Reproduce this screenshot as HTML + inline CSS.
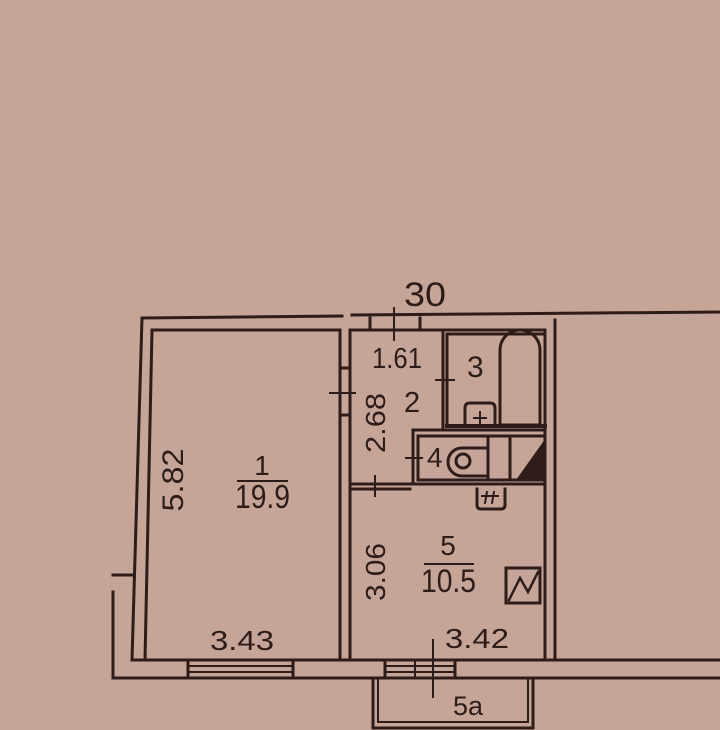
<!DOCTYPE html>
<html><head><meta charset="utf-8"><style>
html,body{margin:0;padding:0;background:#c4a598;}
svg{display:block}
text{font-family:"Liberation Sans",sans-serif;fill:#2e1c18}
</style></head><body>
<svg width="720" height="730" viewBox="0 0 720 730" xmlns="http://www.w3.org/2000/svg">
<rect width="720" height="730" fill="#c4a598"/>
<g stroke="#2e1c18" stroke-width="3" fill="none" stroke-linecap="square">
<line x1="142" y1="318" x2="342" y2="316"/>
<line x1="152" y1="330" x2="340" y2="330"/>
<line x1="142" y1="318" x2="132" y2="660"/>
<line x1="152" y1="330" x2="145" y2="660"/>
<line x1="340" y1="330" x2="340" y2="660"/>
<line x1="350" y1="330" x2="350" y2="660"/>
<line x1="342" y1="368" x2="350" y2="368"/>
<line x1="342" y1="415" x2="350" y2="415"/>
<line x1="330" y1="393" x2="355" y2="393" stroke-width="2"/>
<line x1="113" y1="575" x2="132" y2="575"/>
<line x1="113" y1="592" x2="113" y2="678"/>
<line x1="132" y1="660" x2="720" y2="660"/>
<line x1="113" y1="678" x2="720" y2="678"/>
<line x1="188" y1="660" x2="188" y2="678"/>
<line x1="293" y1="660" x2="293" y2="678"/>
<line x1="188" y1="666" x2="293" y2="666" stroke-width="2"/>
<line x1="188" y1="672" x2="293" y2="672" stroke-width="2"/>
<line x1="385" y1="660" x2="385" y2="678"/>
<line x1="455" y1="660" x2="455" y2="678"/>
<line x1="385" y1="666" x2="455" y2="666" stroke-width="2"/>
<line x1="385" y1="672" x2="455" y2="672" stroke-width="2"/>
<line x1="415" y1="660" x2="415" y2="678" stroke-width="2"/>
<line x1="433" y1="640" x2="433" y2="697" stroke-width="2"/>
<path d="M373 678 V728 H533 V678"/>
<path d="M378 678 V722 H528 V678" stroke-width="2"/>
<line x1="352" y1="315" x2="720" y2="312"/>
<line x1="350" y1="330" x2="545" y2="330"/>
<line x1="545" y1="330" x2="545" y2="660"/>
<line x1="555" y1="320" x2="555" y2="660"/>
<line x1="370" y1="318" x2="370" y2="330"/>
<line x1="420" y1="318" x2="420" y2="330"/>
<line x1="394" y1="308" x2="394" y2="340" stroke-width="2"/>
<line x1="443" y1="330" x2="443" y2="428"/>
<line x1="447" y1="334" x2="447" y2="425"/>
<line x1="447" y1="334" x2="545" y2="334"/>
<line x1="436" y1="380" x2="454" y2="380" stroke-width="2"/>
<path d="M500 425 V350 A20 20 0 0 1 540 350 V425 Z"/>
<line x1="447" y1="426" x2="545" y2="426" stroke-width="4"/>
<path d="M465 425 V408 Q465 403 470 403 H490 Q495 403 495 408 V425"/>
<line x1="480" y1="412" x2="480" y2="424" stroke-width="2"/>
<line x1="474" y1="418" x2="486" y2="418" stroke-width="2"/>
<line x1="413" y1="430" x2="545" y2="430"/>
<line x1="418" y1="436" x2="545" y2="436"/>
<line x1="413" y1="430" x2="413" y2="483"/>
<line x1="418" y1="436" x2="418" y2="480"/>
<line x1="418" y1="480" x2="545" y2="480"/>
<line x1="406" y1="458" x2="422" y2="458" stroke-width="2"/>
<path d="M488 436 V478"/>
<path d="M510 436 V478"/>
<path d="M488 448 H462 A14 14 0 0 0 462 476 H488"/>
<circle cx="463" cy="461" r="7"/>
<path d="M545 440 L518 478 L545 478 Z" fill="#2e1c18" stroke-width="1"/>
<line x1="350" y1="484" x2="545" y2="484"/>
<line x1="350" y1="489" x2="410" y2="489"/>
<line x1="375" y1="476" x2="375" y2="496" stroke-width="2"/>
<path d="M477 489 V505 Q477 509 481 509 H501 Q505 509 505 505 V489"/>
<line x1="487" y1="492" x2="485" y2="503" stroke-width="2"/>
<line x1="494" y1="492" x2="492" y2="503" stroke-width="2"/>
<line x1="482" y1="496" x2="498" y2="496" stroke-width="2"/>
<rect x="506" y="568" width="34" height="35"/>
<path d="M509 600 L520 578 L528 592 L538 572" stroke-width="2.5"/>
<line x1="238" y1="481" x2="287" y2="481" stroke-width="2"/>
<line x1="425" y1="564" x2="473" y2="564" stroke-width="2"/>
</g>
<g>
<text x="404" y="306" font-size="34" textLength="42" lengthAdjust="spacingAndGlyphs">30</text>
<text x="372" y="368" font-size="29" textLength="50" lengthAdjust="spacingAndGlyphs">1.61</text>
<text x="467" y="377" font-size="30">3</text>
<text x="404" y="412" font-size="29">2</text>
<text x="427" y="467" font-size="28">4</text>
<text x="262" y="475" text-anchor="middle" font-size="28">1</text>
<text x="235" y="508" font-size="33" textLength="55" lengthAdjust="spacingAndGlyphs">19.9</text>
<text x="448" y="555" text-anchor="middle" font-size="28">5</text>
<text x="421" y="592" font-size="32" textLength="55" lengthAdjust="spacingAndGlyphs">10.5</text>
<text x="210" y="650" font-size="28" textLength="64" lengthAdjust="spacingAndGlyphs">3.43</text>
<text x="445" y="648" font-size="28" textLength="64" lengthAdjust="spacingAndGlyphs">3.42</text>
<text x="453" y="715" font-size="27">5a</text>
<text transform="translate(183,480) rotate(-90)" text-anchor="middle" font-size="30" textLength="63" lengthAdjust="spacingAndGlyphs">5.82</text>
<text transform="translate(385,423) rotate(-90)" text-anchor="middle" font-size="28" textLength="60" lengthAdjust="spacingAndGlyphs">2.68</text>
<text transform="translate(385,572) rotate(-90)" text-anchor="middle" font-size="28" textLength="58" lengthAdjust="spacingAndGlyphs">3.06</text>
</g>
</svg>
</body></html>
